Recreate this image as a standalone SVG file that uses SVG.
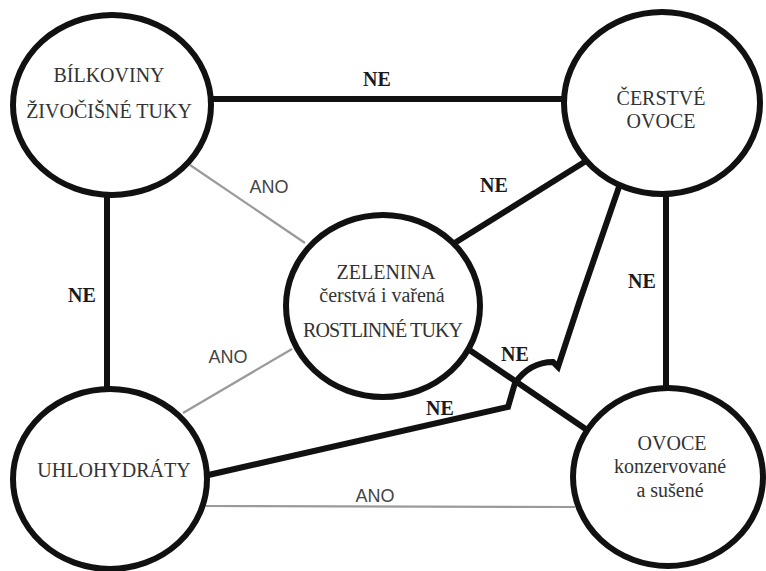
<svg xmlns="http://www.w3.org/2000/svg" width="766" height="571" viewBox="0 0 766 571">
<style>
.node{fill:#fff;stroke:#111;stroke-width:6}
.t{font-family:"Liberation Serif","Times New Roman",serif;font-size:20px;fill:#333;text-anchor:middle}
.thick{fill:none;stroke:#111;stroke-width:6;stroke-linejoin:miter}
.thin{fill:none;stroke:#9a9a9a;stroke-width:2.2}
.ne{font-family:"Liberation Serif","Times New Roman",serif;font-size:20px;font-weight:bold;fill:#1a1a1a;text-anchor:middle}
.ano{font-family:"Liberation Sans",Arial,sans-serif;font-size:18px;fill:#444;text-anchor:middle}
</style>
<rect width="766" height="571" fill="#fff"/>
<g id="connectors">
<path class="thick" d="M200 99 H575"/>
<path class="thick" d="M107 190 V392"/>
<path class="thick" d="M666 190 V392"/>
<path class="thin" d="M190 165 L305 243"/>
<path class="thin" d="M183 413 L292 349"/>
<path class="thin" d="M205 506 L575 507"/>
<path class="thick" d="M453 244 L586 161"/>
<path class="thick" d="M468 349 L590 432"/>
<path class="thick" d="M204 476 L508 407 L515 383 Q530 362 553 362 L558 367 L580 300 L620 184"/>
<text class="ne" x="377" y="86">NE</text>
<text class="ne" x="82" y="302">NE</text>
<text class="ne" x="642" y="288">NE</text>
<text class="ne" x="494" y="192">NE</text>
<text class="ne" x="515" y="361">NE</text>
<text class="ne" x="440" y="415">NE</text>
<text class="ano" x="269" y="193">ANO</text>
<text class="ano" x="228" y="363">ANO</text>
<text class="ano" x="375" y="502">ANO</text>
</g>
<g id="bilkoviny">
<ellipse class="node" cx="112" cy="105" rx="99" ry="90"/>
<text class="t" x="109" y="82">BÍLKOVINY</text>
<text class="t" x="109" y="118">ŽIVOČIŠNÉ TUKY</text>
</g>
<g id="cerstve-ovoce">
<ellipse class="node" cx="662" cy="103" rx="98" ry="91"/>
<text class="t" x="661" y="105">ČERSTVÉ</text>
<text class="t" x="661" y="128">OVOCE</text>
</g>
<g id="zelenina">
<ellipse class="node" cx="383" cy="306" rx="97" ry="91"/>
<text class="t" x="386" y="279">ZELENINA</text>
<text class="t" x="382" y="302">čerstvá i vařená</text>
<text class="t" x="383" y="337" textLength="160">ROSTLINNÉ  TUKY</text>
</g>
<g id="uhlohydraty">
<ellipse class="node" cx="110" cy="479" rx="97" ry="90"/>
<text class="t" x="114" y="477">UHLOHYDRÁTY</text>
</g>
<g id="ovoce">
<ellipse class="node" cx="668" cy="477" rx="95" ry="89"/>
<text class="t" x="672" y="450">OVOCE</text>
<text class="t" x="670" y="473">konzervované</text>
<text class="t" x="670" y="497">a sušené</text>
</g>
</svg>
